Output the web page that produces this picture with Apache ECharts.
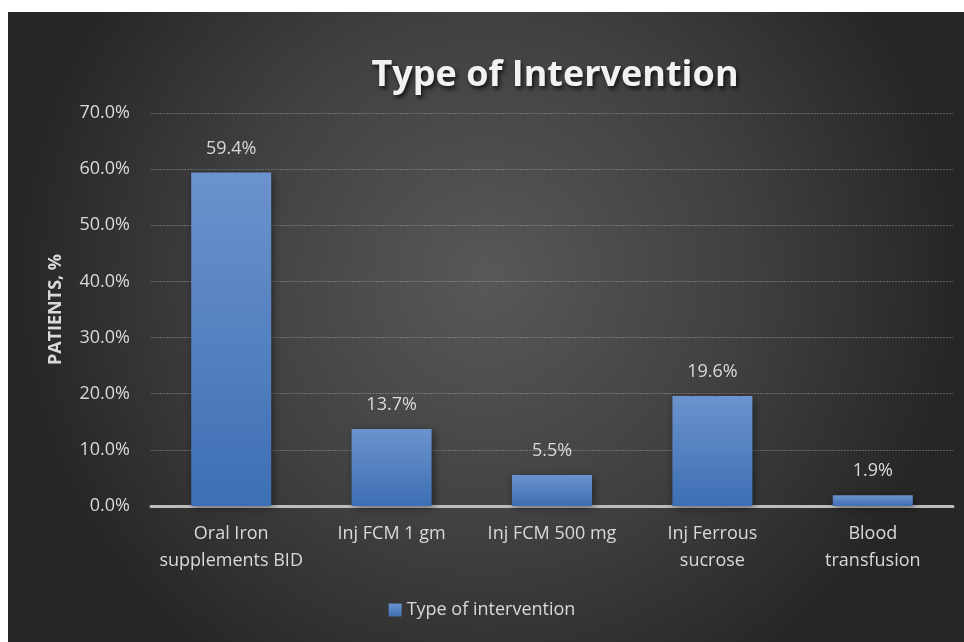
<!DOCTYPE html>
<html>
<head>
<meta charset="utf-8">
<script src="https://cdn.jsdelivr.net/npm/echarts@6/dist/echarts.min.js"></script>
<style>
  html, body { margin: 0; padding: 0; background: #ffffff; }
  #chart { width: 964px; height: 642px; }
</style>
</head>
<body>
<div id="chart"></div>
<script>
// Intervention categories (x axis), share of patients in percent
const categories = [
  'Oral Iron\nsupplements BID',
  'Inj FCM 1 gm',
  'Inj FCM 500 mg',
  'Inj Ferrous\nsucrose',
  'Blood\ntransfusion'
];
const patientShare = [59.4, 13.7, 5.5, 19.6, 1.9];
const seriesName = 'Type of intervention';
const yMin = 0, yMax = 70, yStep = 10;

const chart = echarts.init(document.getElementById('chart'), null, { renderer: 'canvas' });
const labelColor = '#d9d9d9';
const font = "'Open Sans', 'Noto Sans', sans-serif";

chart.setOption({
  backgroundColor: '#ffffff',
  graphic: [{
    type: 'rect',
    z: -10,
    silent: true,
    shape: { x: 8, y: 12, width: 956, height: 630 },
    style: {
      fill: new echarts.graphic.RadialGradient(0.5, 0.42, 0.75, [
        { offset: 0, color: '#585858' },
        { offset: 0.55, color: '#404040' },
        { offset: 1, color: '#262626' }
      ])
    }
  }],
  title: {
    text: 'Type of Intervention',
    left: 550,
    top: 53,
    textAlign: 'center',
    textStyle: {
      color: '#f2f2f2',
      fontSize: 36,
      fontWeight: 'bold',
      fontFamily: font,
      textShadowColor: 'rgba(0,0,0,0.7)',
      textShadowBlur: 4,
      textShadowOffsetX: 2,
      textShadowOffsetY: 3
    }
  },
  legend: {
    data: [seriesName],
    bottom: 18,
    left: 'center',
    icon: 'rect',
    itemWidth: 13,
    itemHeight: 13,
    itemGap: 4,
    textStyle: { color: labelColor, fontSize: 18, fontFamily: font }
  },
  grid: { left: 151, right: 11, top: 113, bottom: 136, containLabel: false },
  xAxis: {
    type: 'category',
    data: categories,
    axisTick: { show: false },
    axisLine: { show: true, lineStyle: { color: '#bdbdbd', width: 3, type: [2, 1] } },
    axisLabel: {
      color: labelColor,
      fontSize: 18,
      fontFamily: font,
      lineHeight: 27,
      margin: 14,
      interval: 0
    }
  },
  yAxis: {
    type: 'value',
    min: yMin,
    max: yMax,
    interval: yStep,
    name: 'PATIENTS, %',
    nameLocation: 'middle',
    nameGap: 86,
    nameRotate: 90,
    nameTextStyle: { color: labelColor, fontSize: 18, fontWeight: 'bold', fontFamily: font },
    axisLine: { show: false },
    axisTick: { show: false },
    axisLabel: {
      color: labelColor,
      fontSize: 18,
      fontFamily: font,
      margin: 21,
      formatter: v => v.toFixed(1) + '%'
    },
    splitLine: { lineStyle: { color: 'rgba(200,200,200,0.35)', width: 1, type: [2, 1] } }
  },
  series: [{
    name: seriesName,
    type: 'bar',
    data: patientShare,
    barWidth: 80,
    itemStyle: {
      color: new echarts.graphic.LinearGradient(0, 0, 0, 1, [
        { offset: 0, color: '#6b93cd' },
        { offset: 1, color: '#3d6fb4' }
      ]),
      shadowColor: 'rgba(0,0,0,0.45)',
      shadowBlur: 8,
      shadowOffsetX: 2,
      shadowOffsetY: 2
    },
    label: {
      show: true,
      position: 'top',
      distance: 15,
      color: labelColor,
      fontSize: 18,
      fontFamily: font,
      formatter: p => p.value.toFixed(1) + '%'
    }
  }]
});
</script>
</body>
</html>
